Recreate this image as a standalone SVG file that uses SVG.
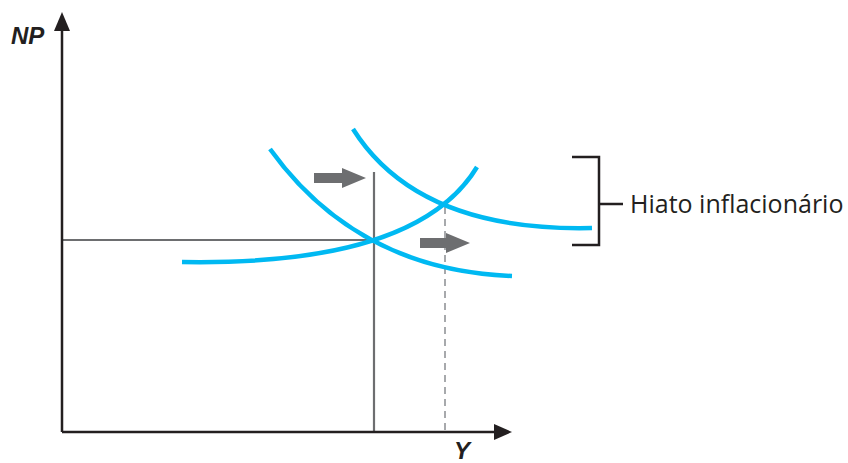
<svg xmlns="http://www.w3.org/2000/svg" width="848" height="463" viewBox="0 0 848 463">
<style>
.axis{stroke:#231f20;stroke-width:2.5;fill:none}
.guide{stroke:#6d6e70;stroke-width:2.2;fill:none}
.dash{stroke:#a7a9ac;stroke-width:2;fill:none;stroke-dasharray:7 5}
.curve{stroke:#00b9f2;stroke-width:4.5;fill:none}
.shift{fill:#6d6e70}
.lbl{font-family:"Liberation Sans",Arial,sans-serif;font-weight:bold;font-style:italic;font-size:24px;fill:#231f20}
.txt{font-family:"Open Sans","Liberation Sans",sans-serif;font-size:25px;fill:#231f20}
.br{stroke:#231f20;stroke-width:2.5;fill:none}
</style>
<rect width="848" height="463" fill="#fff"/>
<g id="guides">
<line class="guide" x1="62" y1="240" x2="374" y2="240"/>
<line class="guide" x1="374" y1="172" x2="374" y2="432"/>
<line class="dash" x1="445" y1="207" x2="445" y2="430"/>
</g>
<g id="axes">
<line class="axis" x1="62" y1="432" x2="62" y2="28"/>
<polygon points="62,12 54,31 70,31" fill="#231f20"/>
<line class="axis" x1="62" y1="432" x2="497" y2="432"/>
<polygon points="512,432 494,424 494,440" fill="#231f20"/>
<text class="lbl" x="11" y="44">NP</text>
<text class="lbl" x="454" y="459">Y</text>
</g>
<g id="curves">
<path id="AS" class="curve" d="M182,262 Q417,266 477,167"/>
<path id="AD1" class="curve" d="M270,149 Q357,270 512,276"/>
<path id="AD2" class="curve" d="M353,129 Q418,232 592,228"/>
</g>
<g id="shift-arrows">
<polygon class="shift" points="314,173 342,173 342,168 366,178 342,188 342,183 314,183"/>
<polygon class="shift" points="420,238 446,238 446,233 470,243 446,253 446,248 420,248"/>
</g>
<g id="gap-label">
<path class="br" d="M572,157 H599 V245 H572 M599,204 H623"/>
<text class="txt" x="630" y="213">Hiato inflacionário</text>
</g>
</svg>
